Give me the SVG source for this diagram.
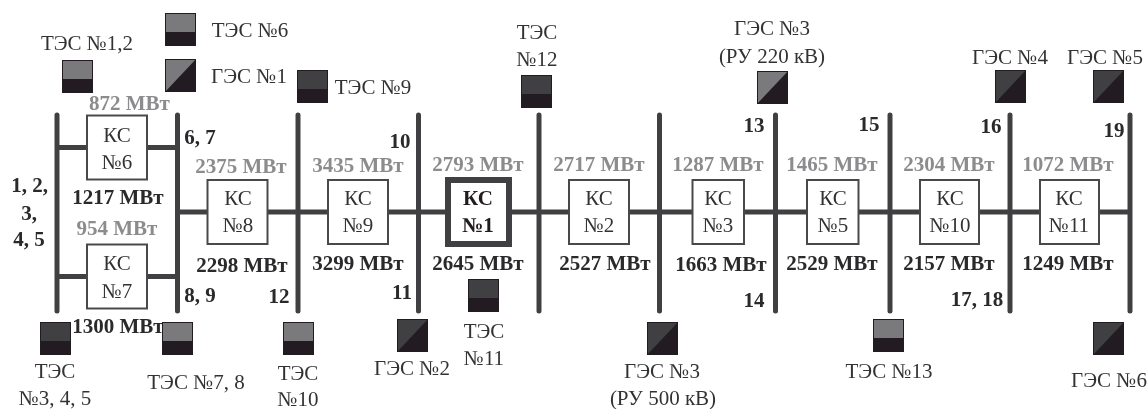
<svg xmlns="http://www.w3.org/2000/svg" width="1148" height="409" viewBox="0 0 1148 409">
<defs>
<style>
text{font-family:"Liberation Serif","Times New Roman",serif;font-size:21px;fill:#333335;text-anchor:middle}
.b{font-weight:bold;fill:#29292b}
.g{font-weight:bold;fill:#8c8c8e}
.ks{fill:#fff;stroke:#4a4a4c;stroke-width:2}
.bus{stroke:#404042;stroke-width:5;stroke-linecap:round;fill:none}
.tie{stroke:#404042;stroke-width:5;fill:none}
.dk{fill:#231f20}
.lt{fill:#7a7a7c;stroke:#231f20;stroke-width:1}
.md{fill:#3f4042;stroke:#231f20;stroke-width:1}
</style>
<filter id="soft" x="0" y="0" width="100%" height="100%"><feGaussianBlur stdDeviation="0.45"/></filter>
<symbol id="tl" viewBox="0 0 31 33" overflow="visible"><rect class="lt" x=".5" y=".5" width="30" height="32"/><rect class="dk" y="19" width="31" height="14"/></symbol>
<symbol id="td" viewBox="0 0 31 33" overflow="visible"><rect class="md" x=".5" y=".5" width="30" height="32"/><rect class="dk" y="19" width="31" height="14"/></symbol>
<symbol id="hl" viewBox="0 0 31 33" overflow="visible"><rect class="lt" x=".5" y=".5" width="30" height="32"/><path class="dk" d="M31 0V33H0Z"/></symbol>
<symbol id="hd" viewBox="0 0 31 33" overflow="visible"><rect class="md" x=".5" y=".5" width="30" height="32"/><path class="dk" d="M31 0V33H0Z"/></symbol>
</defs>
<rect width="1148" height="409" fill="#fff"/>
<g id="diagram" filter="url(#soft)">
<g id="connectors">
<path class="bus" d="M57 115V311M177.500 115V311M298 115V311M418.500 115V311M539 115V311M659.500 115V311M775.500 115V311M890 115V311M1010 115V311M1130 115V311"/>
<path class="tie" d="M57 147.500H177.500M57 276.500H177.500M177.500 212H1130"/>
</g>
<g id="ks6"><rect class="ks" x="87" y="115.500" width="60" height="64"/><text x="117" y="142">КС</text><text x="117" y="169">№6</text></g>
<g id="ks7"><rect class="ks" x="87" y="244.500" width="60" height="64"/><text x="117" y="270">КС</text><text x="117" y="298">№7</text></g>
<g id="ks8"><rect class="ks" x="207.500" y="180" width="60" height="64"/><text x="238" y="205">КС</text><text x="238" y="232">№8</text></g>
<g id="ks9"><rect class="ks" x="328" y="180" width="60" height="64"/><text x="358" y="205">КС</text><text x="358" y="232">№9</text></g>
<g id="ks1"><rect fill="#fff" stroke="#404042" stroke-width="6" x="448" y="180" width="61" height="64"/><text class="b" x="478" y="205" style="fill:#231f20">КС</text><text class="b" x="478" y="232" style="fill:#231f20">№1</text></g>
<g id="ks2"><rect class="ks" x="569" y="180" width="60" height="64"/><text x="599" y="205">КС</text><text x="599" y="232">№2</text></g>
<g id="ks3"><rect class="ks" x="692.500" y="180" width="51.500" height="64"/><text x="718" y="205">КС</text><text x="718" y="232">№3</text></g>
<g id="ks5"><rect class="ks" x="807" y="180" width="51.500" height="64"/><text x="833" y="205">КС</text><text x="833" y="232">№5</text></g>
<g id="ks10"><rect class="ks" x="920" y="180" width="59" height="64"/><text x="950" y="205">КС</text><text x="950" y="232">№10</text></g>
<g id="ks11"><rect class="ks" x="1040" y="180" width="59" height="64"/><text x="1069" y="205">КС</text><text x="1069" y="232">№11</text></g>
<g id="labels-power">
<text class="g" x="129.500" y="110">872 МВт</text><text class="g" x="241" y="173">2375 МВт</text><text class="g" x="358" y="172">3435 МВт</text><text class="g" x="478" y="171">2793 МВт</text><text class="g" x="599" y="171">2717 МВт</text><text class="g" x="718" y="171">1287 МВт</text><text class="g" x="832" y="171">1465 МВт</text><text class="g" x="949" y="171">2304 МВт</text><text class="g" x="1068" y="171">1072 МВт</text><text class="g" x="117" y="235">954 МВт</text>
<text class="b" x="118" y="204">1217 МВт</text><text class="b" x="242" y="272">2298 МВт</text><text class="b" x="358" y="270">3299 МВт</text><text class="b" x="478" y="270">2645 МВт</text><text class="b" x="605" y="270">2527 МВт</text><text class="b" x="721" y="271">1663 МВт</text><text class="b" x="832" y="270">2529 МВт</text><text class="b" x="949" y="270">2157 МВт</text><text class="b" x="1068" y="270">1249 МВт</text><text class="b" x="118" y="333">1300 МВт</text>
</g>
<g id="labels-bus">
<text class="b" x="29.500" y="192">1, 2,</text><text class="b" x="29" y="220">3,</text><text class="b" x="29" y="246">4, 5</text><text class="b" x="200" y="144">6, 7</text><text class="b" x="200" y="302">8, 9</text><text class="b" x="400" y="148">10</text><text class="b" x="402" y="299">11</text><text class="b" x="279" y="303">12</text><text class="b" x="754" y="132">13</text><text class="b" x="754" y="307">14</text><text class="b" x="869" y="131">15</text><text class="b" x="991" y="133">16</text><text class="b" x="977" y="306">17, 18</text><text class="b" x="1114" y="137">19</text>
</g>
<g id="tes6"><use href="#tl" x="165" y="13" width="31" height="33"/><text x="250" y="37">ТЭС №6</text></g>
<g id="ges1"><use href="#hl" x="165" y="59" width="31" height="33"/><text x="249" y="83">ГЭС №1</text></g>
<g id="tes12"><use href="#tl" x="62" y="60" width="31" height="33"/><text x="87" y="50">ТЭС №1,2</text></g>
<g id="tes9"><use href="#td" x="297" y="70" width="31" height="33"/><text x="373" y="94">ТЭС №9</text></g>
<g id="tes12b"><use href="#td" x="521" y="75" width="31" height="33"/><text x="537" y="39">ТЭС</text><text x="537" y="66">№12</text></g>
<g id="ges3a"><use href="#hl" x="757" y="71" width="31" height="33"/><text x="772" y="35">ГЭС №3</text><text x="772" y="63">(РУ 220 кВ)</text></g>
<g id="ges4"><use href="#hd" x="995" y="70" width="31" height="33"/><text x="1010" y="64">ГЭС №4</text></g>
<g id="ges5"><use href="#hd" x="1093" y="70" width="31" height="33"/><text x="1105" y="64">ГЭС №5</text></g>
<g id="tes345"><use href="#td" x="40" y="322" width="31" height="33"/><text x="55" y="378">ТЭС</text><text x="55" y="405">№3, 4, 5</text></g>
<g id="tes78"><use href="#tl" x="162" y="322" width="31" height="33"/><text x="196" y="389">ТЭС №7, 8</text></g>
<g id="tes10"><use href="#tl" x="283" y="322" width="31" height="33"/><text x="298" y="380">ТЭС</text><text x="298" y="406">№10</text></g>
<g id="ges2"><use href="#hd" x="397" y="319" width="31" height="33"/><text x="412" y="375">ГЭС №2</text></g>
<g id="tes11"><use href="#td" x="468" y="279" width="31" height="33"/><text x="484" y="338">ТЭС</text><text x="484" y="365">№11</text></g>
<g id="ges3b"><use href="#hd" x="647" y="322" width="31" height="33"/><text x="662" y="378">ГЭС №3</text><text x="663" y="405">(РУ 500 кВ)</text></g>
<g id="tes13"><use href="#tl" x="873" y="319" width="31" height="33"/><text x="889" y="378">ТЭС №13</text></g>
<g id="ges6"><use href="#hd" x="1093" y="322" width="31" height="33"/><text x="1109" y="387">ГЭС №6</text></g>
</g>
</svg>
